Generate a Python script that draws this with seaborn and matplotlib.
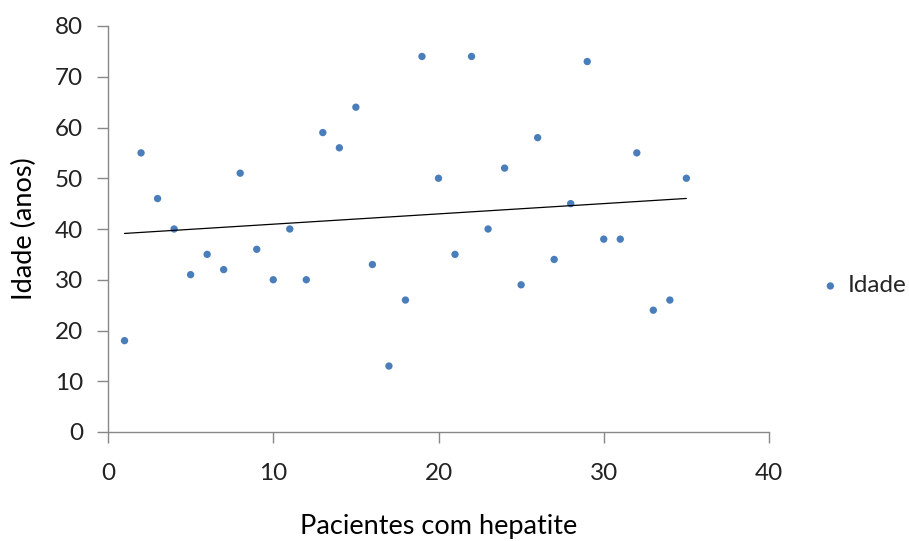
import numpy as np
import pandas as pd
import seaborn as sns
import matplotlib.pyplot as plt

pacientes = list(range(1, 36))
idade = [18, 55, 46, 40, 31, 35, 32, 51, 36, 30,
         40, 30, 59, 56, 64, 33, 13, 26, 74, 50,
         35, 74, 40, 52, 29, 58, 34, 45, 73, 38,
         38, 55, 24, 26, 50]

df = pd.DataFrame({"Pacientes com hepatite": pacientes, "Idade": idade})

sns.set_style("white")
plt.rcParams['font.family'] = ['Lato', 'DejaVu Sans']

fig = plt.figure(figsize=(9.09, 5.41), dpi=100)
ax = fig.add_axes([108 / 909, 109 / 541, (769 - 108) / 909, (432 - 26) / 541])

sns.scatterplot(data=df, x="Pacientes com hepatite", y="Idade", ax=ax,
                color="#4a7ebb", s=28, edgecolor="none", label="Idade")

# linear trendline (excel style)
coef = np.polyfit(df["Pacientes com hepatite"], df["Idade"], 1)
xs = np.array([min(pacientes), max(pacientes)])
ax.plot(xs, np.polyval(coef, xs), color="black", lw=0.9)

ax.set_xlim(0, 40)
ax.set_ylim(0, 80)
ax.set_xticks([0, 10, 20, 30, 40])
ax.set_yticks(range(0, 81, 10))

for s in ["top", "right"]:
    ax.spines[s].set_visible(False)
for s in ["left", "bottom"]:
    ax.spines[s].set_color("#888888")
    ax.spines[s].set_linewidth(1.0)

ax.tick_params(axis="both", direction="out", length=8, width=1, color="#888888",
               labelsize=17.5, labelcolor="#222222", left=True, bottom=True)
ax.tick_params(axis="y", pad=10)
ax.tick_params(axis="x", pad=14)

ax.set_xlabel("Pacientes com hepatite", fontsize=19.5, color="black", labelpad=22)
ax.set_ylabel("Idade (anos)", fontsize=19.5, color="black", labelpad=13)

ax.legend(loc="center left", bbox_to_anchor=(1.045, 0.36), frameon=False,
          fontsize=17.5, handlelength=0.8, handletextpad=0.3, markerscale=1.0)

fig.savefig("out.png", dpi=100)
